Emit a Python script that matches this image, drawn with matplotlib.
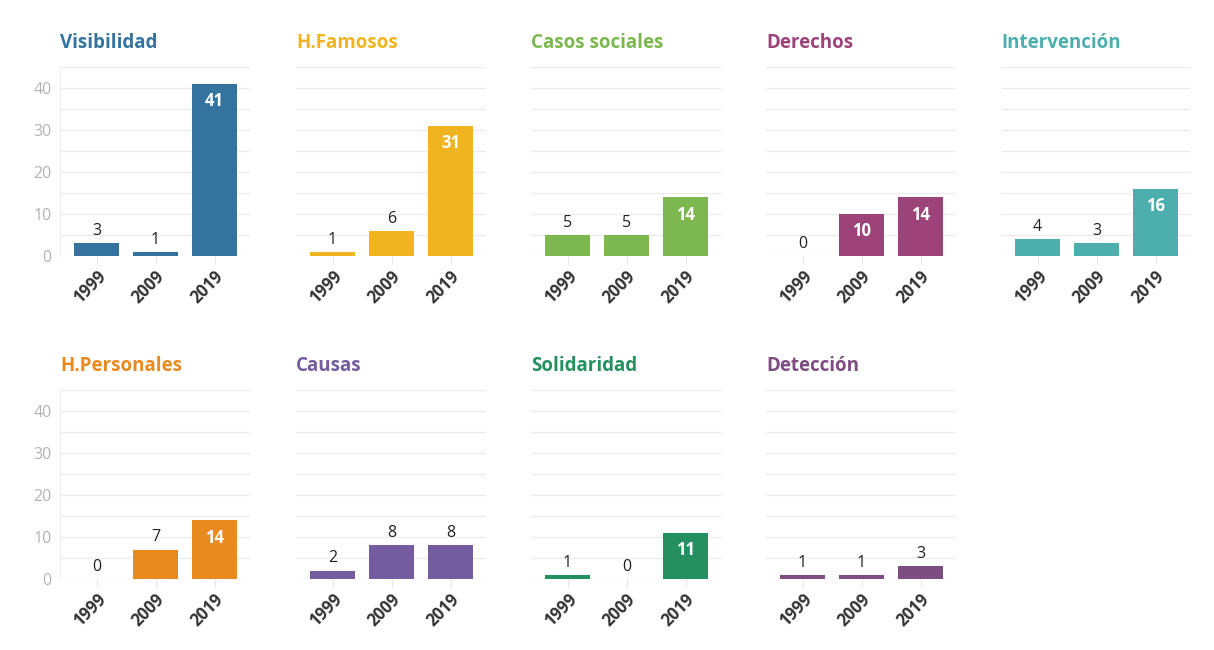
import matplotlib
matplotlib.use('Agg')
import matplotlib.pyplot as plt

# data
years = ['1999', '2009', '2019']
categories = ['Visibilidad', 'H.Famosos', 'Casos sociales', 'Derechos',
              'Intervención', 'H.Personales', 'Causas', 'Solidaridad',
              'Detección']
visibilidad = [3, 1, 41]
h_famosos = [1, 6, 31]
casos_sociales = [5, 5, 14]
derechos = [0, 10, 14]
intervencion = [4, 3, 16]
h_personales = [0, 7, 14]
causas = [2, 8, 8]
solidaridad = [1, 0, 11]
deteccion = [1, 1, 3]
series = [visibilidad, h_famosos, casos_sociales, derechos, intervencion,
          h_personales, causas, solidaridad, deteccion]
colors = ['#33739e', '#f0b421', '#7cb84f', '#9c4479', '#4dafad',
          '#e88a1e', '#735c9f', '#24905f', '#7d4c80']
y_ticks = [0, 10, 20, 30, 40]

plt.rcParams['font.family'] = ['Open Sans', 'DejaVu Sans']

W, H = 1214, 650
fig = plt.figure(figsize=(W / 100, H / 100), dpi=100)
fig.patch.set_facecolor('white')

col_left = [60, 296, 531, 766, 1001]
row_zero = [256, 579]   # pixel y of value 0
ax_w = 190
ax_h = 189
x_lo, x_hi = -0.62, 2.6

for k, (name, vals, col) in enumerate(zip(categories, series, colors)):
    r, c = divmod(k, 5)
    ax = fig.add_axes([col_left[c] / W, (H - row_zero[r]) / H, ax_w / W, ax_h / H])
    x = list(range(len(years)))
    ax.bar(x, vals, width=0.76, color=col, zorder=3)
    ax.set_ylim(0, 45)
    ax.set_xlim(x_lo, x_hi)
    ax.set_yticks(range(0, 46, 5))
    ax.yaxis.grid(True, color='#ececec', linewidth=1, zorder=0)
    ax.set_axisbelow(True)
    for s in ['top', 'right', 'bottom']:
        ax.spines[s].set_visible(False)
    ax.spines['left'].set_color('#f0f0f0')
    if c == 0:
        ax.set_yticklabels([str(v) if v in y_ticks else '' for v in range(0, 46, 5)])
        ax.tick_params(axis='y', length=0, labelsize=11.5, labelcolor='#b3b3b3', pad=6)
    else:
        ax.spines['left'].set_visible(False)
        ax.tick_params(axis='y', length=0, labelleft=False)
    ax.set_xticks(x)
    ax.set_xticklabels(years, rotation=45, ha='right', rotation_mode='anchor',
                       fontweight='bold', fontsize=12, color='#333333')
    ax.tick_params(axis='x', length=6, color='#e6e6e6', pad=2)
    for xi, v in zip(x, vals):
        if v >= 10:
            ax.text(xi, v - 2.0, str(v), ha='center', va='top', color='white',
                    fontweight='bold', fontsize=12, zorder=4)
        else:
            ax.text(xi, v + 1.0, str(v), ha='center', va='bottom', color='#222222',
                    fontsize=11.5, zorder=4)
    ax.text(x_lo, 50.8, name, ha='left', va='center', color=col,
            fontweight='bold', fontsize=13.5)

fig.savefig('out.png', dpi=100, facecolor='white')
